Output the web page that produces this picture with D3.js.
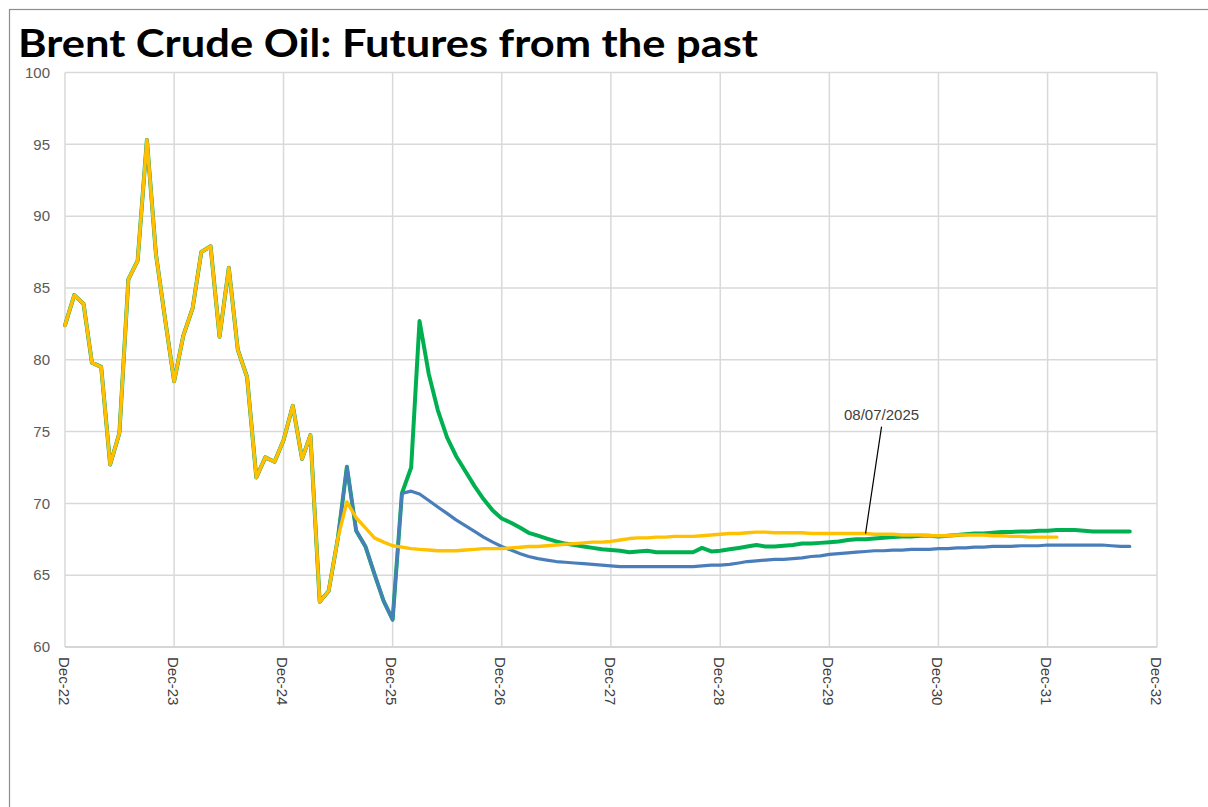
<!DOCTYPE html>
<html>
<head>
<meta charset="utf-8">
<script src="https://cdn.jsdelivr.net/npm/d3@7"></script>
<style>
  body { margin: 0; background: #fff; }
  svg { display: block; }
</style>
</head>
<body>
<div id="chart"></div>
<script>
// Monthly Brent prices, Dec-22 .. Jun-25 (shared by all three lines)
const historyStart = "2022-12";
const historyPrices = [82.4, 84.5, 83.9, 79.8, 79.5, 72.7, 74.9, 85.6, 86.9, 95.3, 87.4, 82.8,
  78.5, 81.7, 83.6, 87.5, 87.9, 81.6, 86.4, 80.7, 78.8, 71.8, 73.2, 72.9,
  74.4, 76.8, 73.1, 74.75, 63.15, 63.9, 67.6];

// Jul-25 .. Dec-25 prices (blue and green lines)
const recentStart = "2025-07";
const recentPrices = [72.55, 68.1, 67.0, 65.1, 63.2, 61.9];

// futures curve as of 08/07/2025 (yellow)
const curveJulStart = "2025-07";
const curveJul = [70.1, 69.0, 68.3, 67.6, 67.3, 67.05, 66.95, 66.85, 66.8, 66.75, 66.7, 66.7,
  66.7, 66.75, 66.8, 66.85, 66.85, 66.85, 66.9, 66.95, 67.0, 67.0, 67.05, 67.1,
  67.15, 67.2, 67.25, 67.3, 67.3, 67.35, 67.45, 67.55, 67.6, 67.6, 67.65, 67.65,
  67.7, 67.7, 67.7, 67.75, 67.8, 67.85, 67.9, 67.9, 67.95, 68.0, 68.0, 67.95,
  67.95, 67.95, 67.95, 67.9, 67.9, 67.9, 67.9, 67.9, 67.9, 67.9, 67.85, 67.85,
  67.85, 67.8, 67.8, 67.8, 67.75, 67.75, 67.75, 67.8, 67.8, 67.8, 67.8, 67.75,
  67.75, 67.7, 67.7, 67.65, 67.65, 67.65, 67.65];

// futures curves from Jan-26 (blue and green)
const curveStart = "2026-01";
const curveBlue = [70.7, 70.85, 70.65, 70.2, 69.75, 69.3, 68.85, 68.45, 68.05, 67.65, 67.3, 67.0,
  66.75, 66.5, 66.3, 66.15, 66.05, 65.95, 65.9, 65.85, 65.8, 65.75, 65.7, 65.65,
  65.6, 65.6, 65.6, 65.6, 65.6, 65.6, 65.6, 65.6, 65.6, 65.65, 65.7, 65.7,
  65.75, 65.85, 65.95, 66.0, 66.05, 66.1, 66.1, 66.15, 66.2, 66.3, 66.35, 66.45,
  66.5, 66.55, 66.6, 66.65, 66.7, 66.7, 66.75, 66.75, 66.8, 66.8, 66.8, 66.85,
  66.85, 66.9, 66.9, 66.95, 66.95, 67.0, 67.0, 67.0, 67.05, 67.05, 67.05, 67.1,
  67.1, 67.1, 67.1, 67.1, 67.1, 67.1, 67.05, 67.0, 67.0];
const curveGreen = [70.7, 72.5, 82.7, 79.0, 76.5, 74.6, 73.3, 72.25, 71.2, 70.3, 69.5, 68.95,
  68.65, 68.3, 67.95, 67.75, 67.55, 67.35, 67.2, 67.1, 67.0, 66.9, 66.8, 66.75,
  66.7, 66.6, 66.65, 66.7, 66.6, 66.6, 66.6, 66.6, 66.6, 66.9, 66.65, 66.7,
  66.8, 66.9, 67.0, 67.1, 67.0, 67.0, 67.05, 67.1, 67.2, 67.2, 67.25, 67.3,
  67.35, 67.45, 67.5, 67.5, 67.55, 67.6, 67.65, 67.7, 67.7, 67.75, 67.75, 67.7,
  67.75, 67.8, 67.85, 67.9, 67.9, 67.95, 68.0, 68.0, 68.05, 68.05, 68.1, 68.1,
  68.15, 68.15, 68.15, 68.1, 68.05, 68.05, 68.05, 68.05, 68.05];

const yTicks = [60, 65, 70, 75, 80, 85, 90, 95, 100];
const titleText = "Brent Crude Oil: Futures from the past";
const noteText = "08/07/2025";
const noteMonth = "2030-04";

const parseMonth = d3.utcParse("%Y-%m");
const toPoints = (start, values) => values.map((v, i) => ({
  date: d3.utcMonth.offset(parseMonth(start), i), value: v
}));

const histPts = toPoints(historyStart, historyPrices);
const recentPts = toPoints(recentStart, recentPrices);
const yellowPts = histPts.concat(toPoints(curveJulStart, curveJul));
const bluePts = histPts.concat(recentPts, toPoints(curveStart, curveBlue));
const greenPts = histPts.concat(recentPts, toPoints(curveStart, curveGreen));

const width = 1208, height = 807;
const margin = { left: 65, right: 51, top: 72.5, bottom: 160 };

const svg = d3.select("#chart").append("svg")
  .attr("width", width).attr("height", height);

svg.append("rect").attr("width", width).attr("height", height).attr("fill", "#fff");
// outer frame (only left and top edges visible)
svg.append("rect")
  .attr("x", 9.5).attr("y", 9.5)
  .attr("width", width + 20).attr("height", height + 20)
  .attr("fill", "none").attr("stroke", "#8c8c8c").attr("stroke-width", 1.2);

const x = d3.scaleUtc()
  .domain([parseMonth("2022-12"), parseMonth("2032-12")])
  .range([margin.left, width - margin.right]);
const y = d3.scaleLinear()
  .domain([60, 100])
  .range([height - margin.bottom, margin.top]);

// one tick every December, Dec-22 .. Dec-32
const xTicks = d3.utcYear.range(parseMonth("2022-01"), parseMonth("2033-01"))
  .map(d => d3.utcMonth.offset(d, 11));

// grid
const grid = svg.append("g");
grid.selectAll("line.h").data(yTicks).enter().append("line")
  .attr("x1", x.range()[0]).attr("x2", x.range()[1])
  .attr("y1", d => y(d)).attr("y2", d => y(d))
  .attr("stroke", d => d === 60 ? "#c8c8c8" : "#d9d9d9").attr("stroke-width", 1.5);
grid.selectAll("line.v").data(xTicks).enter().append("line")
  .attr("x1", d => x(d)).attr("x2", d => x(d))
  .attr("y1", y(60)).attr("y2", y(100))
  .attr("stroke", "#d9d9d9").attr("stroke-width", 1.5);

// y axis labels
svg.append("g").selectAll("text").data(yTicks).enter().append("text")
  .attr("x", 50).attr("y", d => y(d)).attr("dy", "0.35em")
  .attr("text-anchor", "end")
  .attr("font-family", "Liberation Sans, Arial, sans-serif")
  .attr("font-size", 15).attr("fill", "#595959")
  .text(d => d);

// x axis labels, rotated
const fmt = d3.utcFormat("%b-%y");
svg.append("g").selectAll("text").data(xTicks).enter().append("text")
  .attr("transform", d => `translate(${x(d) - 1},${y(60) + 10}) rotate(90)`)
  .attr("dy", "0.35em")
  .attr("font-family", "Liberation Sans, Arial, sans-serif")
  .attr("font-size", 15).attr("fill", "#404040")
  .text(d => fmt(d));

// lines
const line = d3.line().x(d => x(d.date)).y(d => y(d.value));
const series = [
  { pts: greenPts, color: "#00b050", w: 4 },
  { pts: bluePts, color: "#4a7ebb", w: 3.2 },
  { pts: yellowPts, color: "#ffc000", w: 3.4 }
];
svg.append("g").selectAll("path").data(series).enter().append("path")
  .attr("d", d => line(d.pts))
  .attr("fill", "none")
  .attr("stroke", d => d.color)
  .attr("stroke-width", d => d.w)
  .attr("stroke-linejoin", "round")
  .attr("stroke-linecap", "round");

// annotation for the 08/07/2025 curve
const notePt = yellowPts.find(d => +d.date === +parseMonth(noteMonth));
const nx = x(notePt.date), ny = y(notePt.value);
svg.append("line")
  .attr("x1", nx).attr("y1", ny)
  .attr("x2", nx + 16).attr("y2", ny - 107)
  .attr("stroke", "#000").attr("stroke-width", 1.2);
svg.append("text")
  .attr("x", nx + 16).attr("y", ny - 114)
  .attr("text-anchor", "middle")
  .attr("font-family", "Liberation Sans, Arial, sans-serif")
  .attr("font-size", 15).attr("fill", "#404040")
  .text(noteText);

// title
svg.append("text")
  .attr("x", 18).attr("y", 57)
  .attr("font-family", "Lato, Open Sans, sans-serif")
  .attr("font-weight", "bold")
  .attr("font-size", 39)
  .attr("textLength", 740)
  .attr("lengthAdjust", "spacingAndGlyphs")
  .attr("fill", "#000")
  .text(titleText);
</script>
</body>
</html>
